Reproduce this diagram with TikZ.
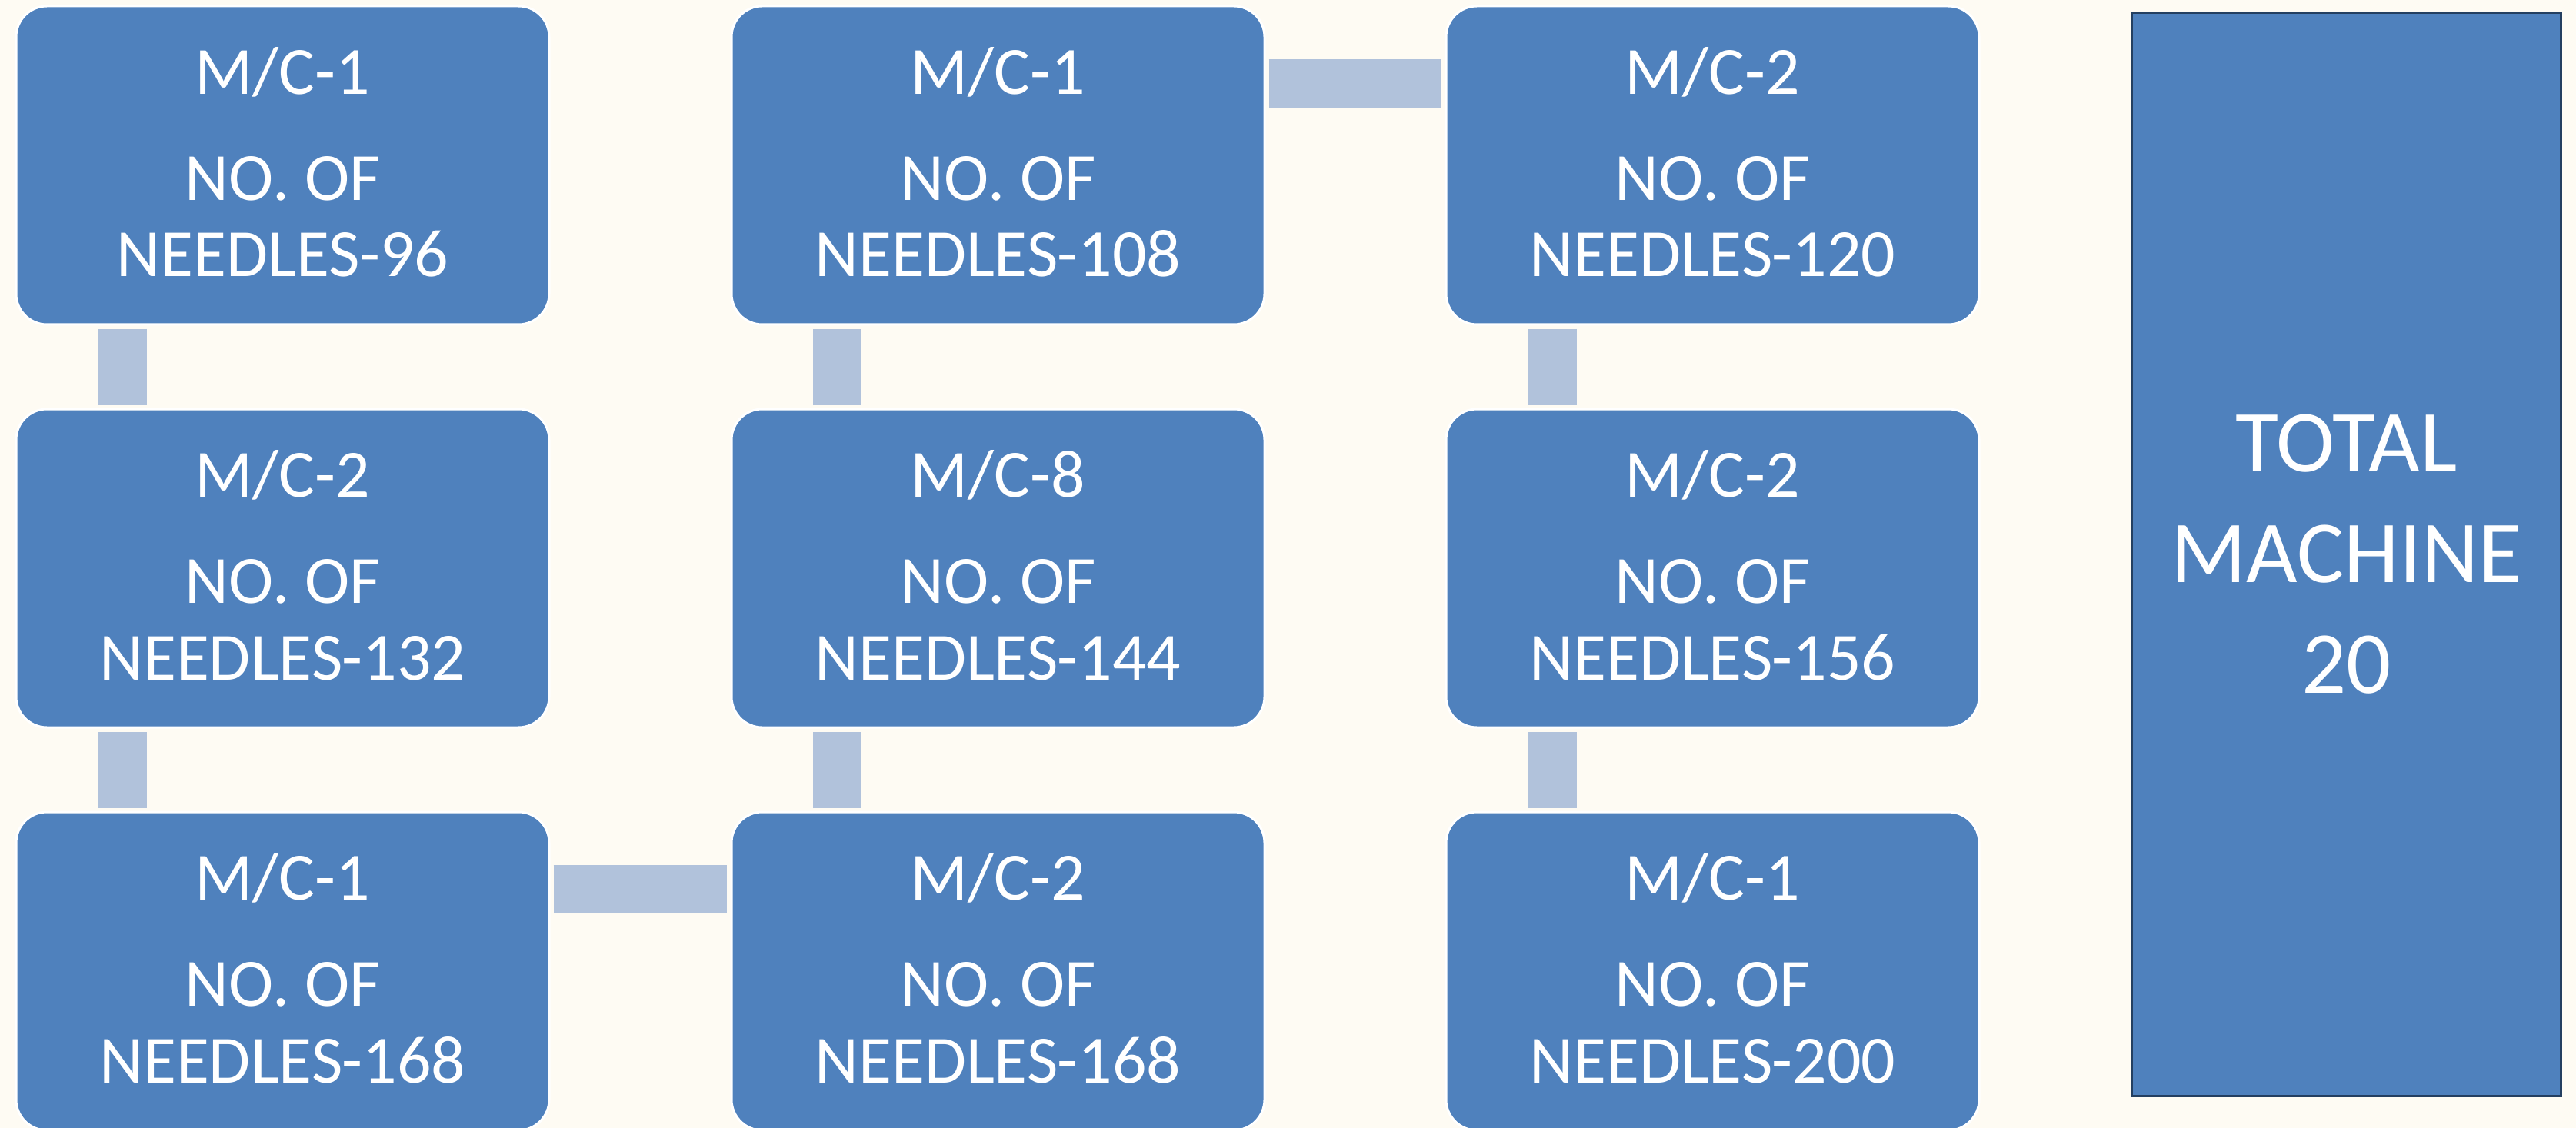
\documentclass[tikz,border=0pt]{standalone}
\usepackage{fontspec}
\setmainfont{Carlito}
\usetikzlibrary{calc}
\definecolor{bgc}{HTML}{FEFBF3}
\definecolor{boxc}{HTML}{4F81BD}
\definecolor{connc}{HTML}{B1C2DB}
\definecolor{bordc}{HTML}{243F60}
\tikzset{
  mcbox/.style={rectangle, rounded corners=0.4cm, fill=boxc, draw=white,
    line width=0.03cm, minimum width=6.93cm, minimum height=4.14cm,
    inner sep=0pt, outer sep=0pt, text=white, align=center,
    font=\fontsize{25}{28.45}\selectfont, text height=3.52cm, text depth=0.62cm},
  connbar/.style={draw=connc, line width=0.63cm, line cap=butt},
  totbox/.style={rectangle, fill=boxc, draw=bordc, line width=0.03cm,
    minimum width=5.58cm, minimum height=14.09cm, inner sep=0pt, outer sep=0pt,
    text=white, align=center, font=\fontsize{32.7}{40.97}\selectfont}
}
\begin{document}
\begin{tikzpicture}
\useasboundingbox (0,0) rectangle (33.49,-14.67);
\fill[bgc] (0,0) rectangle (33.49,-14.67);

% column 1
\node[mcbox] (a1) at (3.675,-2.15)  {M/C-1\\[0.38cm]NO. OF\\NEEDLES-96};
\node[mcbox] (a2) at (3.675,-7.39)  {M/C-2\\[0.38cm]NO. OF\\NEEDLES-132};
\node[mcbox] (a3) at (3.675,-12.63) {M/C-1\\[0.38cm]NO. OF\\NEEDLES-168};
% column 2
\node[mcbox] (b1) at (12.975,-2.15)  {M/C-1\\[0.38cm]NO. OF\\NEEDLES-108};
\node[mcbox] (b2) at (12.975,-7.39)  {M/C-8\\[0.38cm]NO. OF\\NEEDLES-144};
\node[mcbox] (b3) at (12.975,-12.63) {M/C-2\\[0.38cm]NO. OF\\NEEDLES-168};
% column 3
\node[mcbox] (c1) at (22.265,-2.15)  {M/C-2\\[0.38cm]NO. OF\\NEEDLES-120};
\node[mcbox] (c2) at (22.265,-7.39)  {M/C-2\\[0.38cm]NO. OF\\NEEDLES-156};
\node[mcbox] (c3) at (22.265,-12.63) {M/C-1\\[0.38cm]NO. OF\\NEEDLES-200};

% total
\node[totbox] (tot) at (30.505,-7.21) {TOTAL\\MACHINE\\20};

% connectors
\draw[connbar] ($(a1.south west)+(1.385,-0.06)$) -- ($(a2.north west)+(1.385,0.05)$);
\draw[connbar] ($(a2.south west)+(1.385,-0.06)$) -- ($(a3.north west)+(1.385,0.05)$);
\draw[connbar] ($(a3.north east)+(0.055,-1.005)$) -- ($(b3.north west)+(-0.06,-1.005)$);
\draw[connbar] ($(b3.north west)+(1.375,0.05)$) -- ($(b2.south west)+(1.375,-0.06)$);
\draw[connbar] ($(b2.north west)+(1.375,0.05)$) -- ($(b1.south west)+(1.375,-0.06)$);
\draw[connbar] ($(b1.north east)+(0.055,-1.005)$) -- ($(c1.north west)+(-0.06,-1.005)$);
\draw[connbar] ($(c1.south west)+(1.385,-0.06)$) -- ($(c2.north west)+(1.385,0.05)$);
\draw[connbar] ($(c2.south west)+(1.385,-0.06)$) -- ($(c3.north west)+(1.385,0.05)$);
\end{tikzpicture}
\end{document}
